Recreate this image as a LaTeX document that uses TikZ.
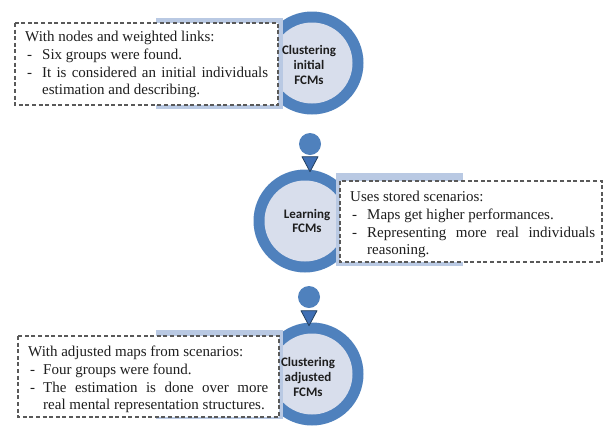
\documentclass[tikz,border=0pt]{standalone}
\usepackage{fontspec}
\setmainfont{Liberation Serif}
\newfontfamily\stepfont{Carlito}
\usetikzlibrary{calc}

\definecolor{ringblue}{HTML}{4F81BD}
\definecolor{coreblue}{HTML}{D8DEEC}
\definecolor{bandblue}{HTML}{B9C9E3}
\definecolor{tipedge}{HTML}{24405F}
\definecolor{tipfill}{HTML}{3F6FB4}
\definecolor{notegray}{HTML}{595959}
\definecolor{inktext}{HTML}{1E1E1E}

% justified line of given width
\newcommand{\jline}[2]{\makebox[#1][s]{#2}}

\begin{document}
\begin{tikzpicture}[x=1pt,y=-1pt,
  ring/.style={circle, fill=ringblue, minimum size=103pt, inner sep=0pt},
  core/.style={circle, fill=coreblue, minimum size=81pt, inner sep=0pt},
  band/.style={fill=bandblue},
  note/.style={draw=notegray, fill=white, line width=1.1pt, dash pattern=on 4pt off 2.6pt},
  steplabel/.style={font=\stepfont\bfseries\fontsize{13}{14.8}\selectfont, align=center, text=inktext, inner sep=0pt},
  dot/.style={circle, fill=ringblue, minimum size=22pt, inner sep=0pt},
  tip/.style={fill=tipfill, draw=tipedge, line width=0.8pt, line join=round},
  txt/.style={anchor=base west, inner sep=0pt, text=inktext, font=\fontsize{15}{17.6}\selectfont}
]
\useasboundingbox (0,0) rectangle (604,426);

% ---------- step 1: clustering initial FCMs ----------
\node[ring] (r1) at (312,63) {};
\node[core] (k1) at (r1) {};
\fill[band] (156,18) rectangle (283,109);
\draw[note] (15,23) rectangle (278,105);
\node[steplabel] (s1) at (309,65) {Clustering\\initial\\FCMs};
\node[txt] (a0) at (25,41) {With nodes and weighted links:};
\node[txt] (a1) at (27,59) {-};
\node[txt] (a2) at (42,59) {Six groups were found.};
\node[txt] (a3) at (27,77) {-};
\node[txt] (a4) at (42,77) {\jline{226pt}{It is considered an initial individuals}};
\node[txt] (a5) at (42,94) {estimation and describing.};

% ---------- step 2: learning FCMs ----------
\node[ring] (r2) at (305,221) {};
\node[core] (k2) at (r2) {};
\fill[band] (336,173) rectangle (463,266);
\draw[note] (340,181) rectangle (602,262);
\node[steplabel] (s2) at (307,221) {Learning\\FCMs};
\node[txt] (b0) at (350,201) {Uses stored scenarios:};
\node[txt] (b1) at (352,219) {-};
\node[txt] (b2) at (367,219) {Maps get higher performances.};
\node[txt] (b3) at (352,237) {-};
\node[txt] (b4) at (367,237) {\jline{228pt}{Representing more real individuals}};
\node[txt] (b5) at (367,254) {reasoning.};

% ---------- step 3: clustering adjusted FCMs ----------
\node[ring] (r3) at (312,374) {};
\node[core] (k3) at (r3) {};
\fill[band] (156,330) rectangle (283,419);
\draw[note] (18,336) rectangle (279,417);
\node[steplabel] (s3) at (308,377) {Clustering\\adjusted\\FCMs};
\node[txt] (c0) at (28,356) {With adjusted maps from scenarios:};
\node[txt] (c1) at (30,374) {-};
\node[txt] (c2) at (43,374) {Four groups were found.};
\node[txt] (c3) at (30,392) {-};
\node[txt] (c4) at (43,392) {\jline{225pt}{The estimation is done over more}};
\node[txt] (c5) at (43,409) {real mental representation structures.};

% ---------- connectors: dot with a downward pointer ----------
\node[dot] (d1) at (310,144) {};
\coordinate (p1) at ($(d1.south)+(0,1.5)$);
\path[tip] ($(p1)+(-8,0)$) -- ($(p1)+(8,0)$) -- ($(p1)+(0,15)$) -- cycle;

\node[dot] (d2) at (309,297) {};
\coordinate (p2) at ($(d2.south)+(0,2.5)$);
\path[tip] ($(p2)+(-8,0)$) -- ($(p2)+(8,0)$) -- ($(p2)+(0,15)$) -- cycle;
\end{tikzpicture}
\end{document}
